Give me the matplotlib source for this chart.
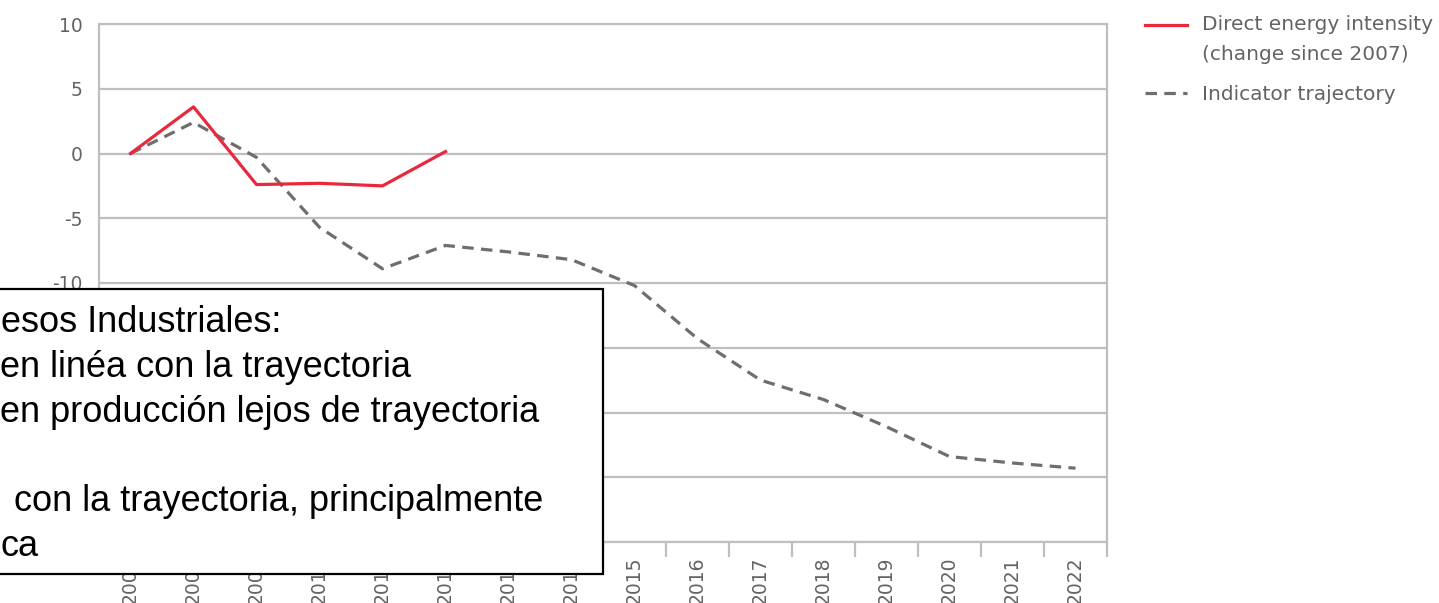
import matplotlib.pyplot as plt
from matplotlib.lines import Line2D
from matplotlib.patches import Rectangle
import numpy as np

# data
years = [str(y) for y in range(2007, 2023)]
direct_intensity = [0, 3.6, -2.4, -2.3, -2.5, 0.15]
trajectory = [0, 2.4, -0.3, -5.7, -8.9, -7.1, -7.6, -8.2, -10.2, -14.3,
              -17.5, -19.0, -21.1, -23.4, -23.9, -24.3]
y_ticks = [10, 5, 0, -5, -10, -15, -20, -25, -30]
# labels below -10 sit under the note box in the original
y_ticklabels = ["10", "5", "0", "-5", "-10", "", "", "", ""]

legend_labels = ["Direct energy intensity", "(change since 2007)", "Indicator trajectory"]
note_lines = ["esos Industriales:",
              "en linéa con la trayectoria",
              "en producción lejos de trayectoria",
              "con la trayectoria, principalmente",
              "ca"]

W, H = 1439, 603
grid_c = "#BFBFBF"
txt_c = "#636363"
red = "#E8293D"
gray = "#6E6E6E"

fig = plt.figure(figsize=(W / 100, H / 100), dpi=100)
ax = fig.add_axes([99 / W, 1 - 542 / H, 1008 / W, 518 / H])

x = np.arange(len(years))
ax.plot(x, trajectory, color=gray, lw=2.3, dashes=(3.6, 2.3), zorder=3)
ax.plot(x[:len(direct_intensity)], direct_intensity, color=red, lw=2.3, zorder=4)

ax.set_xlim(-0.5, len(years) - 0.5)
ax.set_ylim(-30, 10)
ax.set_yticks(y_ticks)
ax.set_yticklabels(y_ticklabels)
ax.yaxis.grid(True, color=grid_c, lw=1.6)
ax.set_axisbelow(True)

ax.set_xticks(x)
ax.set_xticklabels(years, rotation=90)
ax.set_xticks(np.arange(-0.5, len(years)), minor=True)
ax.tick_params(axis="x", which="major", length=0, pad=10.5)
ax.tick_params(axis="x", which="minor", length=11, width=1.6, color=grid_c, direction="out")
ax.tick_params(axis="y", length=0, pad=12)
for lab in ax.get_xticklabels() + ax.get_yticklabels():
    lab.set_fontsize(13.5)
    lab.set_color(txt_c)
    lab.set_family("DejaVu Sans")
for sp in ax.spines.values():
    sp.set_color(grid_c)
    sp.set_linewidth(1.6)

# overlay in pixel coordinates for legend and note box
ov = fig.add_axes([0, 0, 1, 1], facecolor="none")
ov.set_xlim(0, W)
ov.set_ylim(H, 0)
ov.axis("off")

ov.add_line(Line2D([1145, 1187], [25, 25], color=red, lw=2.3))
ov.add_line(Line2D([1145, 1187], [93, 93], color=gray, lw=2.3, dashes=(3.6, 2.3)))
for txt, yy in zip(legend_labels, [24, 55, 95]):
    ov.text(1202, yy, txt, fontsize=14.5, color=txt_c, va="center", ha="left")

ov.add_patch(Rectangle((-10, 289), 613, 285, facecolor="white", edgecolor="black", lw=1.6, zorder=5))
for txt, xx, yy in zip(note_lines, [1, 0, 0, 14, 0], [332, 377, 422, 511, 556]):
    ov.text(xx, yy, txt, fontsize=26, family="Liberation Sans", color="black",
            va="baseline", ha="left", zorder=6)

fig.savefig("out.png", dpi=100)
